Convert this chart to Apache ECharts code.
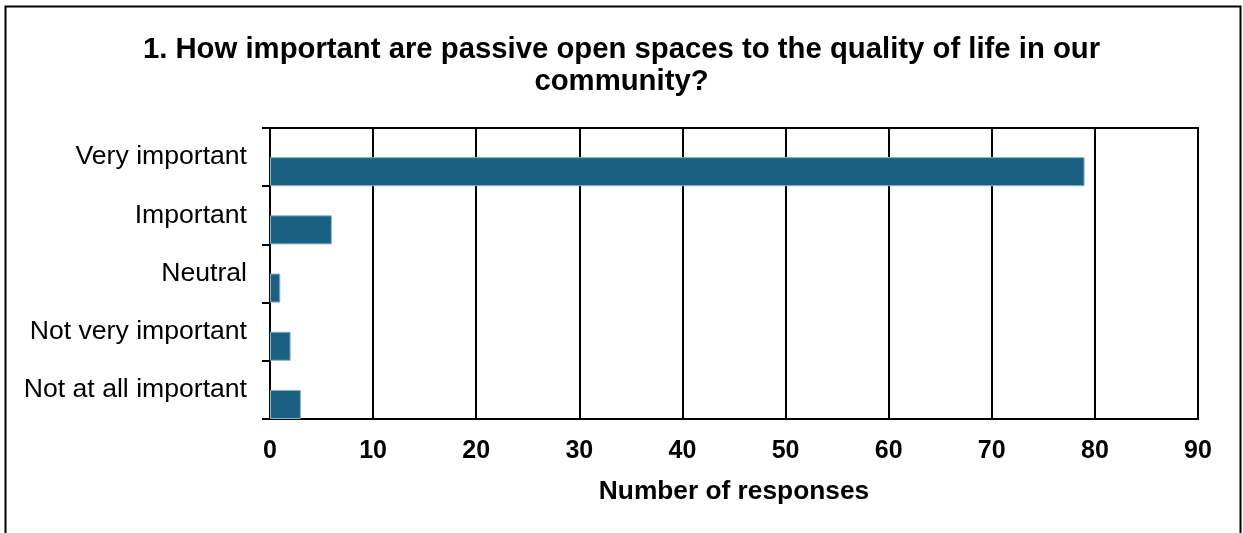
<!DOCTYPE html>
<html>
<head>
<meta charset="utf-8">
<script src="https://cdn.jsdelivr.net/npm/echarts@6/dist/echarts.min.js"></script>
<style>
html,body{margin:0;padding:0;background:#fff;}
#c{width:1243px;height:533px;}
</style>
</head>
<body>
<div id="c"></div>
<script>
const titleText = '1. How important are passive open spaces to the quality of life in our\ncommunity?';
const categories = ['Very important', 'Important', 'Neutral', 'Not very important', 'Not at all important'];
const responses = [79, 6, 1, 2, 3];
const placeholder = [null, null, null, null, null];
const xAxisName = 'Number of responses';

const chart = echarts.init(document.getElementById('c'), null, {renderer: 'canvas'});
const FONT = '"Liberation Sans", Arial, sans-serif';
chart.setOption({
  animation: false,
  backgroundColor: '#fff',
  textStyle: {fontFamily: FONT},
  title: {
    text: titleText,
    left: 'center',
    top: 29,
    textStyle: {fontFamily: FONT, fontSize: 29.3, fontWeight: 'bold', color: '#000', lineHeight: 32}
  },
  grid: {
    left: 270, right: 45, top: 128, bottom: 114,
    show: true, borderColor: '#000', borderWidth: 2, backgroundColor: 'transparent'
  },
  xAxis: {
    type: 'value', min: 0, max: 90, interval: 10,
    name: xAxisName, nameLocation: 'middle', nameGap: 60,
    nameTextStyle: {fontFamily: FONT, fontSize: 26.3, fontWeight: 'bold', color: '#000'},
    axisLine: {show: true, lineStyle: {color: '#000', width: 2}},
    axisTick: {show: false},
    axisLabel: {fontFamily: FONT, fontSize: 25, fontWeight: 'bold', color: '#000', margin: 20},
    splitLine: {show: true, lineStyle: {color: '#000', width: 2}}
  },
  yAxis: {
    type: 'category', data: categories, inverse: true,
    axisLine: {show: true, lineStyle: {color: '#000', width: 2}},
    axisTick: {show: true, length: 8, lineStyle: {color: '#000', width: 2}},
    axisLabel: {fontFamily: FONT, fontSize: 26.6, color: '#000', margin: 23, padding: [3, 0, 0, 0]},
    splitLine: {show: false}
  },
  series: [
    {type: 'bar', name: 'placeholder', data: placeholder, barGap: '0%', barCategoryGap: '0%', silent: true},
    {type: 'bar', name: 'Responses', data: responses, barGap: '0%', barCategoryGap: '0%',
     itemStyle: {color: '#1a6082', borderColor: '#8db4c9', borderWidth: 1}}
  ],
  graphic: [{
    type: 'rect', silent: true,
    shape: {x: 5.5, y: 6.5, width: 1235, height: 540},
    style: {fill: 'none', stroke: '#000', lineWidth: 2}
  }]
});
</script>
</body>
</html>
